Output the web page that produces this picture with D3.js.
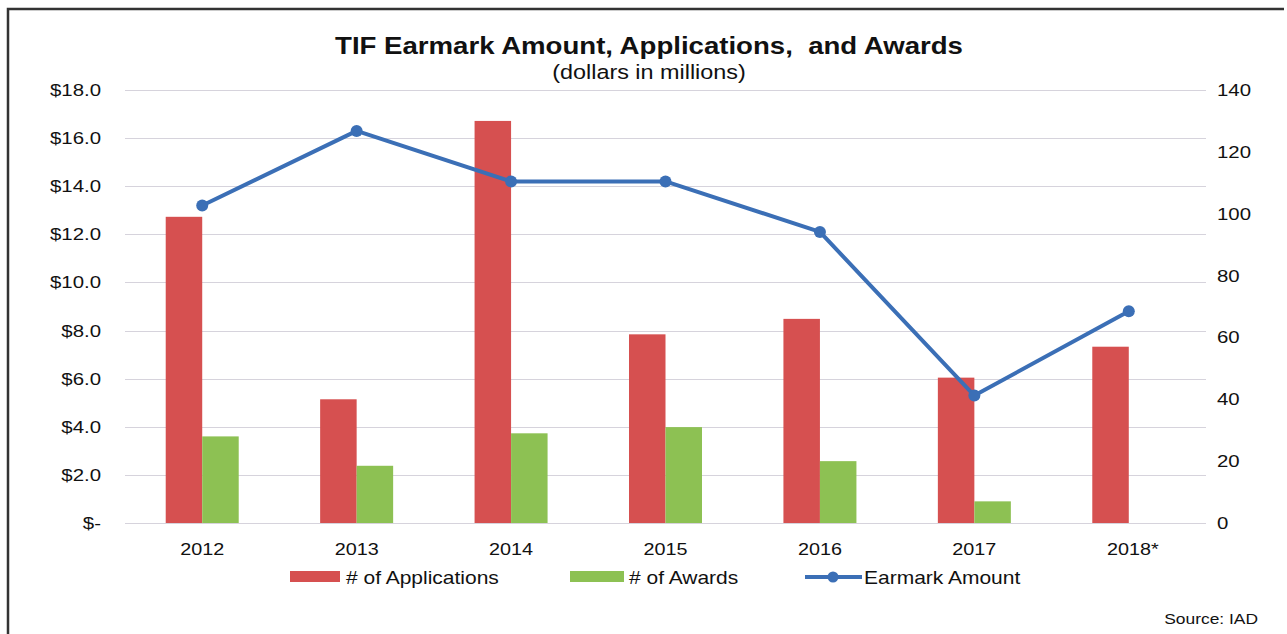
<!DOCTYPE html>
<html>
<head>
<meta charset="utf-8">
<script src="https://cdn.jsdelivr.net/npm/d3@7"></script>
<style>
  body { margin: 0; background: #fff; }
  svg { font-family: Arial, "Liberation Sans", sans-serif; }
</style>
</head>
<body>
<div id="chart"></div>
<script>
// data
var years = ['2012', '2013', '2014', '2015', '2016', '2017', '2018*']
var applications = [99, 40, 130, 61, 66, 47, 57]
var awards = [28, 18.5, 29, 31, 20, 7, null]
var earmark = [13.2, 16.3, 14.2, 14.2, 12.1, 5.3, 8.8]
var dollarTicks = [0, 2, 4, 6, 8, 10, 12, 14, 16, 18]
var countTicks = [0, 20, 40, 60, 80, 100, 120, 140]

var W = 1287, H = 634
var plot = { left: 125, right: 1206, top: 90, bottom: 523 }
var stretch = 1.2   // the scan is a bit wider than tall

var colRed = '#d65050', colGreen = '#8dc153', colBlue = '#3b6fb6'

var svg = d3.select('#chart').append('svg')
    .attr('width', W)
    .attr('height', H)

// text helper: places text at (x,y) and stretches it sideways
function label(g, x, y, txt, size, anchor, weight) {
    return g.append('text')
        .attr('transform', 'translate(' + x + ',' + y + ') scale(' + stretch + ',1)')
        .attr('text-anchor', anchor || 'start')
        .attr('font-size', size)
        .attr('font-weight', weight || null)
        .attr('fill', '#111')
        .text(txt)
}

// scanned frame
svg.append('path')
    .attr('d', 'M8,' + (H + 5) + ' L8,9 L1284,9')
    .attr('fill', 'none')
    .attr('stroke', '#333')
    .attr('stroke-width', 2.5)

var x = d3.scaleBand()
    .domain(years)
    .range([plot.left, plot.right])

var xBar = d3.scaleBand()
    .domain(['app', 'awd'])
    .range([0, 73])

var yLeft = d3.scaleLinear().domain([0, 18]).range([plot.bottom, plot.top])
var yRight = d3.scaleLinear().domain([0, 140]).range([plot.bottom, plot.top])

// gridlines (left axis)
svg.append('g')
    .selectAll('line')
    .data(dollarTicks)
    .join('line')
    .attr('x1', plot.left)
    .attr('x2', plot.right)
    .attr('y1', d => Math.round(yLeft(d)) + 0.5)
    .attr('y2', d => Math.round(yLeft(d)) + 0.5)
    .attr('stroke', '#d6d3dc')
    .attr('stroke-width', 1)

// left axis labels
var gl = svg.append('g')
dollarTicks.forEach(function(d) {
    label(gl, 101, yLeft(d) + 6, d === 0 ? '$-' : '$' + d.toFixed(1), 17, 'end')
})

// right axis labels
var gr = svg.append('g')
countTicks.forEach(function(d) {
    label(gr, 1217, yRight(d) + 6, d, 17, 'start')
})

// bars
var groups = svg.append('g')
    .selectAll('g')
    .data(years)
    .join('g')
    .attr('transform', d => 'translate(' + (x(d) + x.bandwidth() / 2 - 36.5) + ',0)')

groups.append('rect')
    .attr('x', xBar('app'))
    .attr('width', xBar.bandwidth())
    .attr('y', (d, i) => yRight(applications[i]))
    .attr('height', (d, i) => plot.bottom - yRight(applications[i]))
    .attr('fill', colRed)

groups.filter((d, i) => awards[i] != null)
    .append('rect')
    .attr('x', xBar('awd'))
    .attr('width', xBar.bandwidth())
    .attr('y', d => yRight(awards[years.indexOf(d)]))
    .attr('height', d => plot.bottom - yRight(awards[years.indexOf(d)]))
    .attr('fill', colGreen)

// earmark line
var line = d3.line()
    .x((d, i) => x(years[i]) + x.bandwidth() / 2)
    .y(d => yLeft(d))

svg.append('path')
    .datum(earmark)
    .attr('d', line)
    .attr('fill', 'none')
    .attr('stroke', colBlue)
    .attr('stroke-width', 4)
    .attr('stroke-linejoin', 'round')

svg.append('g')
    .selectAll('circle')
    .data(earmark)
    .join('circle')
    .attr('cx', (d, i) => x(years[i]) + x.bandwidth() / 2)
    .attr('cy', d => yLeft(d))
    .attr('r', 6)
    .attr('fill', colBlue)

// x labels
var gx = svg.append('g')
years.forEach(function(d) {
    label(gx, x(d) + x.bandwidth() / 2 + (d === '2018*' ? 4 : 0), 555, d, 16.5, 'middle')
})

// title
label(svg, 649, 54, 'TIF Earmark Amount, Applications,  and Awards', 23, 'middle', 'bold')
    .style('white-space', 'pre')
label(svg, 649, 79, '(dollars in millions)', 19.5, 'middle')

// legend
var legend = svg.append('g')

legend.append('rect').attr('x', 290).attr('y', 571).attr('width', 50).attr('height', 11).attr('fill', colRed)
label(legend, 346, 584, '# of Applications', 17.5)

legend.append('rect').attr('x', 570).attr('y', 571).attr('width', 54).attr('height', 11).attr('fill', colGreen)
label(legend, 629, 584, '# of Awards', 17.5)

legend.append('line').attr('x1', 805).attr('x2', 862).attr('y1', 577).attr('y2', 577)
    .attr('stroke', colBlue).attr('stroke-width', 4)
legend.append('circle').attr('cx', 833).attr('cy', 577).attr('r', 5.5).attr('fill', colBlue)
label(legend, 864, 584, 'Earmark Amount', 17.5)

// source
label(svg, 1258, 624, 'Source: IAD', 14.5, 'end')
</script>
</body>
</html>
